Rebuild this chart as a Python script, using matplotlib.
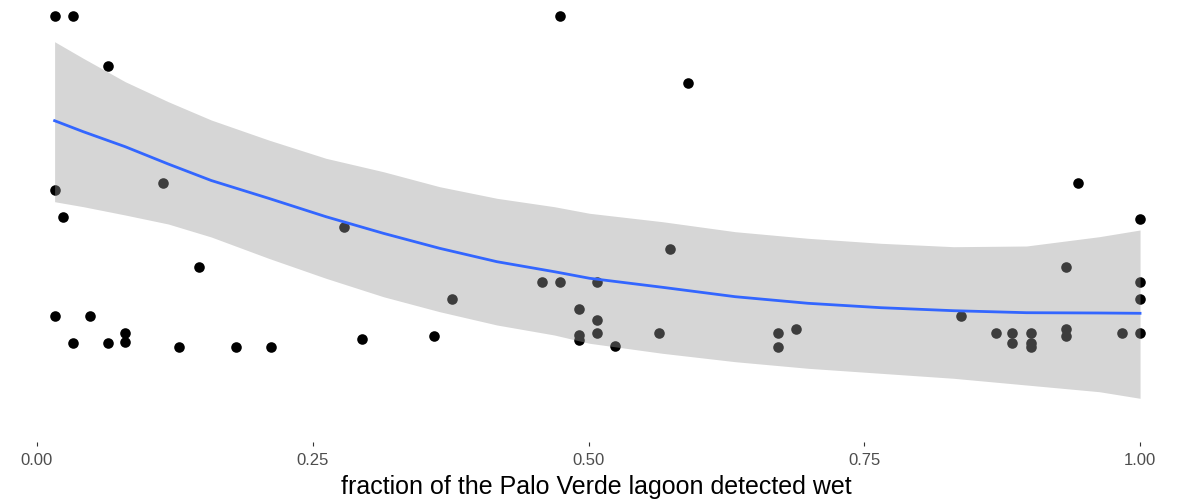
import numpy as np
import matplotlib
matplotlib.use("Agg")
import matplotlib.pyplot as plt

plt.rcParams["font.family"] = ["Liberation Sans", "DejaVu Sans"]

# -----------------------------
# Observations (y on an arbitrary, hidden scale)
# -----------------------------
wet_frac = [0.016, 0.033, 0.064, 0.016, 0.024, 0.114, 0.147, 0.016, 0.048,
            0.033, 0.064, 0.080, 0.080, 0.129, 0.180, 0.212, 0.278, 0.295,
            0.360, 0.376, 0.458, 0.474, 0.474, 0.491, 0.491, 0.491, 0.508,
            0.508, 0.508, 0.524, 0.564, 0.574, 0.590, 0.672, 0.672, 0.688,
            0.838, 0.869, 0.884, 0.884, 0.901, 0.901, 0.901, 0.933, 0.933,
            0.933, 0.944, 0.984, 1.000, 1.000, 1.000, 1.000]
response = [43.4, 43.4, 38.4, 26.0, 23.3, 26.7, 18.3, 13.4, 13.4,
            10.7, 10.7, 11.7, 10.8, 10.3, 10.3, 10.3, 22.3, 11.1,
            11.4, 15.1, 16.8, 16.8, 43.4, 14.1, 11.5, 11.0, 16.8,
            13.0, 11.7, 10.4, 11.7, 20.1, 36.7, 11.7, 10.3, 12.1,
            13.4, 11.7, 11.7, 10.7, 11.7, 10.7, 10.3, 12.1, 11.4,
            18.3, 26.7, 11.7, 23.1, 16.8, 15.1, 11.7]

# loess smooth and its confidence band
fit_x = [0.016, 0.042, 0.080, 0.119, 0.158, 0.210, 0.262, 0.314, 0.365,
         0.417, 0.469, 0.501, 0.567, 0.633, 0.699, 0.765, 0.831, 0.897,
         0.963, 1.000]
fit_y = [32.93, 31.83, 30.33, 28.6, 26.95, 25.17, 23.33, 21.67, 20.17,
         18.83, 17.83, 17.17, 16.27, 15.33, 14.67, 14.23, 13.93, 13.73,
         13.70, 13.67]
fit_hi = [40.83, 39.17, 36.83, 34.83, 33.0, 31.0, 29.17, 27.83, 26.33,
          25.17, 24.33, 23.67, 22.83, 21.83, 21.17, 20.67, 20.33, 20.4,
          21.33, 22.0]
fit_lo = [24.83, 24.33, 23.5, 22.6, 21.3, 19.17, 17.17, 15.33, 13.83,
          12.5, 11.5, 10.67, 9.67, 8.83, 8.17, 7.67, 7.17, 6.5,
          5.83, 5.17]

x_ticks = [0.0, 0.25, 0.5, 0.75, 1.0]
x_tick_labels = ["0.00", "0.25", "0.50", "0.75", "1.00"]

# -----------------------------
# Figure
# -----------------------------
W, H = 1178, 503
fig = plt.figure(figsize=(W / 100, H / 100), dpi=100)
ax = fig.add_axes([0, 1 - 442 / H, 1, 442 / H])

ax.scatter(wet_frac, response, s=58, color="black", linewidths=0, zorder=1)
ax.fill_between(fit_x, fit_lo, fit_hi, color="#999999", alpha=0.4,
                linewidth=0, zorder=2)
ax.plot(fit_x, fit_y, color="#3366FF", linewidth=2, zorder=3)

ax.set_xlim(-0.0335, 1.0344)
ax.set_ylim(0.8, 45.0)

for side in ["top", "right", "left", "bottom"]:
    ax.spines[side].set_visible(False)
ax.set_yticks([])
ax.set_xticks(x_ticks)
ax.set_xticklabels(x_tick_labels)
ax.tick_params(axis="x", length=3, width=0.8, color="#333333",
               labelsize=12, labelcolor="#4D4D4D", pad=5)

fig.text(596 / W, 1 - 487 / H, "fraction of the Palo Verde lagoon detected wet",
         ha="center", va="center", fontsize=18, color="black")

fig.savefig("out.png", dpi=100)
